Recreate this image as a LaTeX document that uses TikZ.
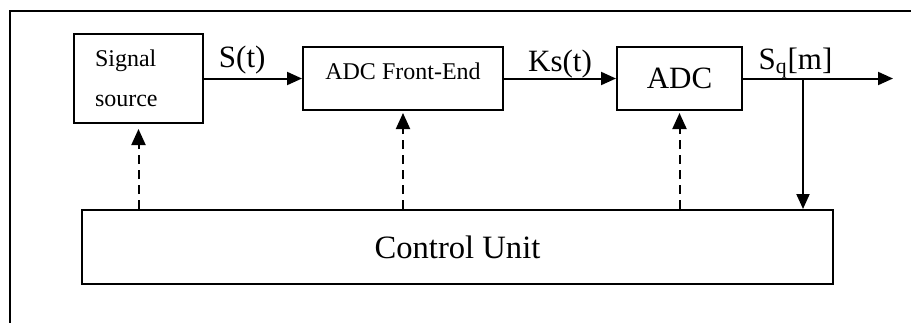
\documentclass[tikz,border=0pt]{standalone}
\usepackage{fontspec}
\setmainfont{Liberation Serif}
\usetikzlibrary{arrows.meta, positioning}

\begin{document}
\begin{tikzpicture}[x=0.5pt, y=-0.5pt, node distance=49pt,
  blk/.style={draw, line width=1pt, minimum height=31.5pt, inner sep=0pt},
  sig/.style={-{Triangle[length=7.5pt, width=6.5pt]}, line width=1pt},
  ctl/.style={-{Triangle[length=8pt, width=7pt]}, line width=1pt,
              dash pattern=on 4.5pt off 3pt},
  lbl/.style={font=\fontsize{15.5}{18}\selectfont, anchor=base, inner sep=0pt}]
  \useasboundingbox (0,0) rectangle (911,323);
  % frame
  \draw[line width=1pt] (911,11) -- (10,11) -- (10,323);
  % blocks
  \node[blk, minimum width=64.5pt, minimum height=44.5pt,
        align=left, text width=43.5pt, inner xsep=10.5pt,
        font=\fontsize{12}{20}\selectfont] (src) at (138.5,78.5) {Signal\\source};
  \node[blk, minimum width=100pt, font=\fontsize{12}{14}\selectfont,
        text height=8pt, text depth=7pt, right=49pt of src] (fe) {ADC Front-End};
  \node[blk, minimum width=62.5pt, font=\fontsize{15.5}{18}\selectfont,
        right=56pt of fe] (adc) {ADC};
  \node[blk, minimum width=375.5pt, minimum height=37pt,
        font=\fontsize{16.3}{19}\selectfont] (ctrl) at (457.5,247) {Control Unit};
  \coordinate (tap) at (803,78.5);
  \coordinate (out) at (893,78.5);
  % signal path
  \draw[sig] (src) -- (fe) node[lbl, pos=0.39, yshift=5.5pt]{S(t)};
  \draw[sig] (fe) -- (adc) node[lbl, midway, yshift=3.5pt]{Ks(t)};
  \draw[sig] (adc) -- (out) node[lbl, pos=0.35, yshift=4.5pt]{S\textsubscript{q}[m]};
  \draw[sig] (tap) -- (tap |- ctrl.north);
  % control lines
  \draw[ctl, shorten >=2.5pt] (ctrl.north -| src.south) -- (src.south);
  \draw[ctl, shorten >=1pt] (ctrl.north -| fe.south) -- (fe.south);
  \draw[ctl, shorten >=1pt] (ctrl.north -| adc.south) -- (adc.south);
\end{tikzpicture}
\end{document}
